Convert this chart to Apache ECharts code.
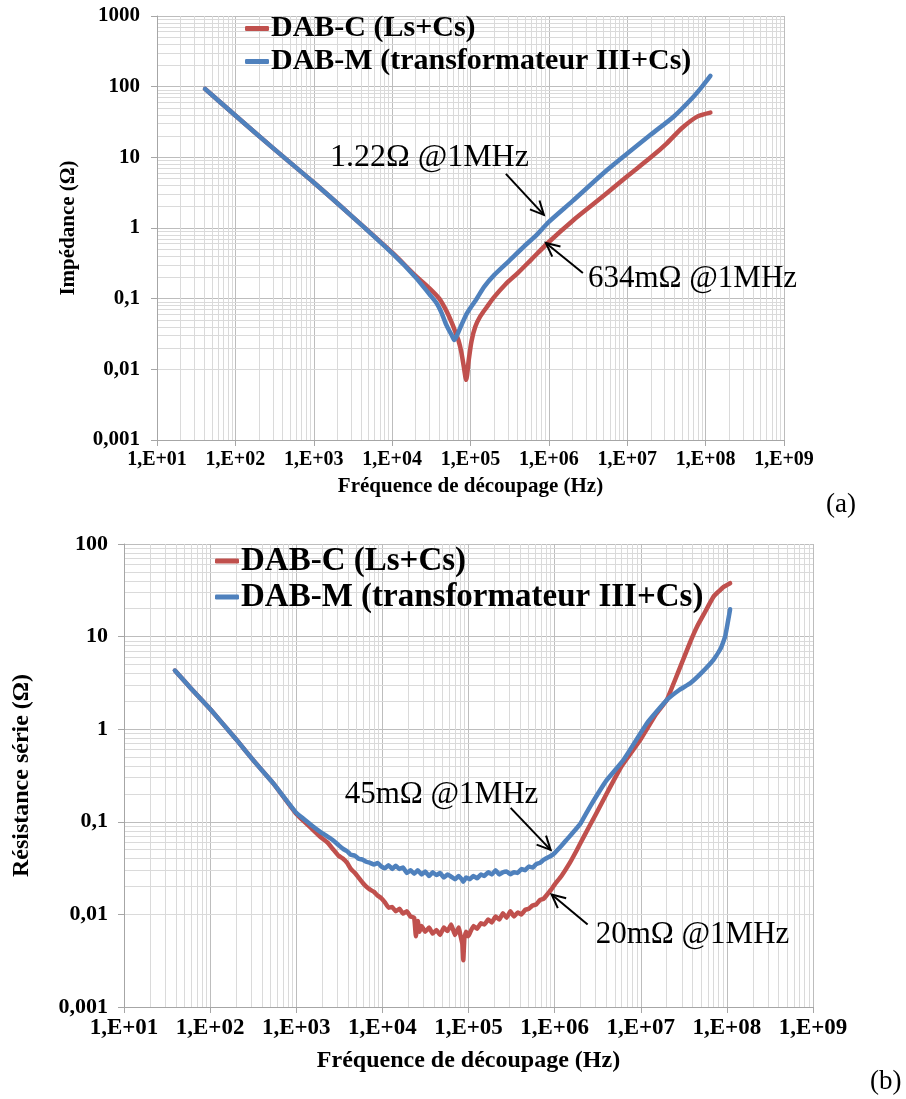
<!DOCTYPE html>
<html><head><meta charset="utf-8">
<script src="https://cdn.jsdelivr.net/npm/echarts@6/dist/echarts.min.js"></script>
<style>html,body{margin:0;padding:0;background:#fff}#c{width:906px;height:1099px}</style>
</head><body><div id="c"></div>
<script>
// ---------- data ----------
const seriesNames = ['DAB-C (Ls+Cs)', 'DAB-M (transformateur III+Cs)'];
const xTickLabels = ['1,E+01','1,E+02','1,E+03','1,E+04','1,E+05','1,E+06','1,E+07','1,E+08','1,E+09'];
const yTickLabelsA = ['0,001','0,01','0,1','1','10','100','1000'];
const yTickLabelsB = ['0,001','0,01','0,1','1','10','100'];

// (a) Impédance
const freqA_C = [41,100,300,1000,3000,10000,20000,30000,40000,50000,58000,64000,70000,76000,82000,88000,95000,103000,115000,133000,160000,200000,280000,400000,600000,1000000,2000000,5000000,10000000,20000000,32000000,50000000,78000000,115000000];
const impA_C  = [93,39,13.6,4.4,1.5,0.45,0.21,0.14,0.1,0.065,0.045,0.034,0.026,0.018,0.011,0.0071,0.0136,0.025,0.04,0.056,0.075,0.105,0.16,0.23,0.36,0.634,1.26,2.85,5.4,10,15.8,26,37.7,43];
const freqA_M = [41,100,300,1000,3000,10000,20000,30000,37000,43000,48000,53000,58000,62000,67000,75000,90000,120000,150000,200000,300000,500000,700000,1000000,2000000,5000000,10000000,20000000,40000000,70000000,90000000,115000000];
const impA_M  = [93,39,13.6,4.4,1.5,0.44,0.2,0.115,0.086,0.062,0.045,0.036,0.03,0.026,0.03,0.04,0.062,0.1,0.148,0.215,0.33,0.57,0.8,1.22,2.4,6.0,11.3,21,38.5,72,100,142];

// (b) Résistance série
const freqB_C = [39,60,100,200,318,542,1000,1500,1900,2300,2700,3100,3500,3900,4300,4800,5300,5900,6500,7200,8000,8800,9700,10700,11800,13000,14300,15800,17400,19200,21200,23400,24500,25800,27000,28500,31500,34800,38400,42400,46800,51700,57100,63000,69600,76800,81000,84800,87000,89500,93600,99000,103000,114000,126000,139000,153000,169000,187000,206000,228000,251000,277000,306000,338000,373000,412000,455000,502000,555000,612000,676000,747000,824000,910000,1000000,1200000,1500000,1800000,2200000,3000000,4000000,6000000,9800000,15000000,20000000,25000000,31000000,38000000,45000000,55000000,70000000,90000000,109000000];
const resB_C  = [4.3,2.75,1.65,0.78,0.46,0.26,0.122,0.085,0.069,0.06,0.05,0.043,0.040,0.036,0.031,0.028,0.025,0.022,0.02,0.0185,0.0175,0.016,0.015,0.0135,0.0118,0.012,0.0108,0.0115,0.0102,0.0108,0.0095,0.0092,0.0058,0.0085,0.0065,0.0075,0.0065,0.0072,0.0062,0.0068,0.006,0.0072,0.0066,0.0078,0.006,0.0072,0.0058,0.0048,0.0032,0.0055,0.0065,0.0058,0.0062,0.0075,0.007,0.008,0.0078,0.0088,0.0082,0.0095,0.0088,0.0103,0.0092,0.0108,0.0095,0.0105,0.01,0.0112,0.0115,0.0125,0.0128,0.0143,0.0148,0.0165,0.0185,0.021,0.026,0.036,0.049,0.07,0.12,0.2,0.4,0.76,1.45,2.06,3.4,5.6,9,12.8,18,27,34,37.7];
const freqB_M = [39,60,100,200,318,542,1000,1500,1900,2500,2800,3100,3500,3900,4300,4800,5300,5900,6500,7200,8000,8800,9700,10700,11800,13000,14300,15800,17400,19200,21200,23400,25800,28500,31500,34800,38400,42400,46800,51700,57100,63000,69600,76800,84800,87000,93600,103000,114000,126000,139000,153000,169000,187000,206000,228000,251000,277000,306000,338000,373000,412000,455000,502000,555000,612000,676000,747000,824000,910000,1000000,1200000,1400000,1700000,2000000,2580000,4000000,6300000,11800000,20000000,28000000,37500000,50000000,69800000,85000000,95500000,109000000];
const resB_M  = [4.3,2.75,1.65,0.78,0.46,0.26,0.125,0.092,0.078,0.066,0.061,0.056,0.051,0.048,0.044,0.043,0.040,0.039,0.037,0.036,0.0345,0.036,0.033,0.0315,0.034,0.031,0.0335,0.031,0.032,0.028,0.030,0.0275,0.030,0.027,0.029,0.026,0.0285,0.0266,0.028,0.025,0.027,0.0255,0.024,0.026,0.0235,0.0225,0.025,0.024,0.026,0.0245,0.027,0.026,0.0285,0.027,0.030,0.027,0.0285,0.029,0.0272,0.0285,0.028,0.031,0.030,0.033,0.032,0.035,0.036,0.039,0.041,0.043,0.046,0.055,0.065,0.08,0.096,0.146,0.28,0.465,1.16,2.06,2.65,3.13,4.0,5.6,7.5,10,19.7];

// annotations: [text, frequency, value]
const annotA = [['1.22Ω @1MHz', 1e6, 1.22], ['634mΩ @1MHz', 1e6, 0.634]];
const annotB = [['45mΩ @1MHz', 1e6, 0.045], ['20mΩ @1MHz', 1e6, 0.02]];

// ---------- chart ----------
const SERIF = '"Liberation Serif","Times New Roman",serif';
const RED = '#C0504D', BLUE = '#4F81BD';
const zip = (xs, ys) => xs.map((x, i) => [x, ys[i]]);
const exp10 = v => Math.round(Math.log10(v));

function minorValues(e0, e1) {
  const out = [];
  for (let e = e0; e < e1; e++) for (let m = 2; m <= 9; m++) out.push(m * Math.pow(10, e));
  return out;
}

function gridSeries(idx, xE, yE) {
  const data = minorValues(xE[0], xE[1]).map(v => ({xAxis: v}))
    .concat(minorValues(yE[0], yE[1]).map(v => ({yAxis: v})));
  return {
    type: 'line', xAxisIndex: idx, yAxisIndex: idx, data: [], silent: true, z: 0, zlevel: 0,
    markLine: { silent: true, z: 0, zlevel: 0, symbol: ['none', 'none'], label: {show: false},
      lineStyle: {color: '#dadada', width: 1, type: 'solid'}, emphasis: {disabled: true}, data: data }
  };
}

function lineSeries(name, idx, data, color, smooth) {
  return { name, type: 'line', xAxisIndex: idx, yAxisIndex: idx, data, symbol: 'none', showSymbol: false,
    smooth: smooth, z: 5, lineStyle: {width: 4.5, color: color, cap: 'round', join: 'round'}, itemStyle: {color: color} };
}

function xAxisCfg(idx, fs, nfs, gap) {
  return { type: 'log', gridIndex: idx, logBase: 10, min: 10, max: 1e9,
    name: 'Fréquence de découpage (Hz)', nameLocation: 'middle', nameGap: gap,
    nameTextStyle: {fontFamily: SERIF, fontWeight: 'bold', fontSize: nfs, color: '#000'},
    axisLine: {show: true, lineStyle: {color: '#a6a6a6', width: 1}},
    axisTick: {show: true, length: 6, lineStyle: {color: '#a6a6a6'}},
    splitLine: {show: true, lineStyle: {color: '#bdbdbd', width: 1}},
    axisLabel: {fontFamily: SERIF, fontWeight: 'bold', fontSize: fs, color: '#000', margin: 10,
      formatter: v => xTickLabels[exp10(v) - 1] || ''} };
}

function yAxisCfg(idx, name, labels, minV, maxV, fs, nfs, gap, margin) {
  return { type: 'log', gridIndex: idx, logBase: 10, min: minV, max: maxV,
    name: name, nameLocation: 'middle', nameGap: gap,
    nameTextStyle: {fontFamily: SERIF, fontWeight: 'bold', fontSize: nfs, color: '#000'},
    axisLine: {show: true, lineStyle: {color: '#a6a6a6', width: 1}},
    axisTick: {show: true, length: 6, lineStyle: {color: '#a6a6a6'}},
    splitLine: {show: true, lineStyle: {color: '#bdbdbd', width: 1}},
    axisLabel: {fontFamily: SERIF, fontWeight: 'bold', fontSize: fs, color: '#000', margin: margin,
      formatter: v => labels[exp10(v) + 3] || ''} };
}

function legendCfg(left, top, fs, lh, gap) {
  return { data: seriesNames, orient: 'vertical', left: left, top: top, itemGap: gap, z: 6,
    icon: 'roundRect', itemWidth: 24, itemHeight: 5, padding: 0, selectedMode: false,
    textStyle: {fontFamily: SERIF, fontWeight: 'bold', fontSize: fs, lineHeight: lh, color: '#000', padding: [0, 0, 0, -3]} };
}

const chart = echarts.init(document.getElementById('c'), null, {renderer: 'canvas'});
chart.setOption({
  animation: false,
  backgroundColor: '#fff',
  grid: [
    {left: 157, top: 16, width: 627, height: 424, containLabel: false},
    {left: 124, top: 544, width: 689, height: 463, containLabel: false}
  ],
  xAxis: [xAxisCfg(0, 20, 21, 36), xAxisCfg(1, 23, 24, 42)],
  yAxis: [
    yAxisCfg(0, 'Impédance (Ω)', yTickLabelsA, 0.001, 1000, 21, 21, 78, 17),
    yAxisCfg(1, 'Résistance série (Ω)', yTickLabelsB, 0.001, 100, 22, 24, 90, 16)
  ],
  legend: [legendCfg(245, 13, 30, 31, 2), legendCfg(215, 544, 33, 34, 2)],
  series: [
    gridSeries(0, [1, 9], [-3, 3]),
    gridSeries(1, [1, 9], [-3, 2]),
    lineSeries(seriesNames[0], 0, zip(freqA_C, impA_C), RED, 0.25),
    lineSeries(seriesNames[1], 0, zip(freqA_M, impA_M), BLUE, 0.25),
    lineSeries(seriesNames[0], 1, zip(freqB_C, resB_C), RED, 0.1),
    lineSeries(seriesNames[1], 1, zip(freqB_M, resB_M), BLUE, 0.1)
  ]
});

// annotations anchored to data points
function arrow(tip, tail) {
  const dx = tail[0] - tip[0], dy = tail[1] - tip[1];
  const len = Math.hypot(dx, dy), ux = dx / len, uy = dy / len;
  const h = 15, a = 0.45;
  const p1 = [tip[0] + h * (ux * Math.cos(a) - uy * Math.sin(a)), tip[1] + h * (ux * Math.sin(a) + uy * Math.cos(a))];
  const p2 = [tip[0] + h * (ux * Math.cos(-a) - uy * Math.sin(-a)), tip[1] + h * (ux * Math.sin(-a) + uy * Math.cos(-a))];
  return [
    {type: 'line', shape: {x1: tail[0], y1: tail[1], x2: tip[0], y2: tip[1]}, style: {stroke: '#000', lineWidth: 2}, z: 10},
    {type: 'polyline', shape: {points: [p1, tip, p2]}, style: {stroke: '#000', lineWidth: 2, fill: null}, z: 10}
  ];
}
function label(text, x, y, size) {
  return {type: 'text', x: x, y: y, z: 10, style: {text: text, fontFamily: SERIF, fontSize: size, fill: '#000', align: 'left', verticalAlign: 'middle'}};
}
const pA1 = chart.convertToPixel({gridIndex: 0}, [annotA[0][1], annotA[0][2]]);
const pA2 = chart.convertToPixel({gridIndex: 0}, [annotA[1][1], annotA[1][2]]);
const pB1 = chart.convertToPixel({gridIndex: 1}, [annotB[0][1], annotB[0][2]]);
const pB2 = chart.convertToPixel({gridIndex: 1}, [annotB[1][1], annotB[1][2]]);
const tA1 = [pA1[0] - 5, pA1[1] - 7], tA2 = [pA2[0] - 3, pA2[1] + 1];
const tB1 = [pB1[0] - 4, pB1[1] - 4], tB2 = [pB2[0] - 3, pB2[1] + 8];
const els = [].concat(
  arrow(tA1, [tA1[0] - 38, tA1[1] - 41]),
  arrow(tA2, [tA2[0] + 37, tA2[1] + 30]),
  arrow(tB1, [tB1[0] - 40, tB1[1] - 42]),
  arrow(tB2, [tB2[0] + 36, tB2[1] + 30]),
  [label(annotA[0][0], tA1[0] - 214, tA1[1] - 57, 32),
   label(annotA[1][0], tA2[0] + 42, tA2[1] + 36, 31),
   label(annotB[0][0], tB1[0] - 206, tB1[1] - 55, 31),
   label(annotB[1][0], tB2[0] + 44, tB2[1] + 40, 31),
   label('(a)', 826, 505, 27),
   label('(b)', 870, 1082, 27)]
);
chart.setOption({graphic: {elements: els}});
</script></body></html>
